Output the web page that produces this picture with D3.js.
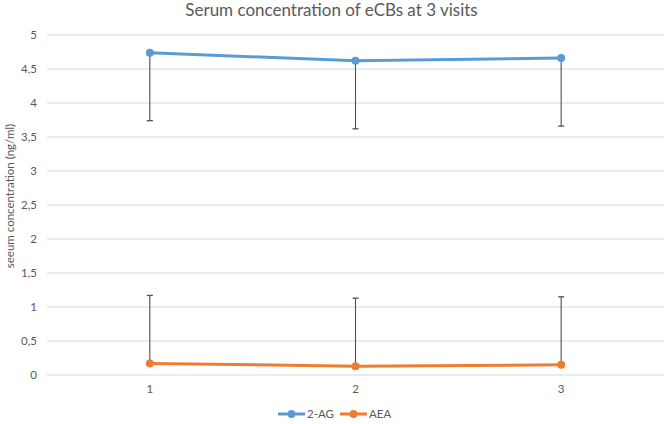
<!DOCTYPE html>
<html>
<head>
<meta charset="utf-8">
<script src="https://cdn.jsdelivr.net/npm/d3@7"></script>
<style>
  html, body { margin: 0; padding: 0; background: #fff; }
  svg { display: block; font-family: Lato, "Open Sans", sans-serif; }
</style>
</head>
<body>
<svg id="chart" width="669" height="424"></svg>
<script>
const categories = ["1", "2", "3"];
const seriesNames = ["2-AG", "AEA"];
const values2AG = [4.74, 4.62, 4.66];
const valuesAEA = [0.17, 0.13, 0.15];
const errMinus2AG = [1, 1, 1];
const errPlusAEA = [1, 1, 1];
const yTicks = [0, 0.5, 1, 1.5, 2, 2.5, 3, 3.5, 4, 4.5, 5];
const titleText = "Serum concentration of eCBs at 3 visits";
const yLabelText = "seeum concentration (ng/ml)";

const colors = { "2-AG": "#5B9BD5", "AEA": "#ED7D31" };
const textColor = "#595959";

const W = 669, H = 424;
const margin = { left: 47, right: 5, top: 35, bottom: 49 };
const svg = d3.select("#chart");

const x = d3.scaleBand().domain(categories).range([margin.left, W - margin.right]);
const y = d3.scaleLinear().domain([0, 5]).range([H - margin.bottom, margin.top]);

// gridlines
svg.append("g").selectAll("line").data(yTicks).join("line")
  .attr("x1", margin.left).attr("x2", W - margin.right)
  .attr("y1", d => y(d)).attr("y2", d => y(d))
  .attr("stroke", "#D9D9D9").attr("stroke-width", 1);

// y axis labels
const fmt = d => String(d).replace(".", ",");
const yAxis = d3.axisLeft(y).tickValues(yTicks).tickFormat(fmt).tickSize(0).tickPadding(10);
const yg = svg.append("g").attr("transform", `translate(${margin.left},0)`).call(yAxis);
yg.select(".domain").remove();
yg.selectAll("text").attr("fill", textColor).attr("font-size", 11.5).attr("font-family", "Lato, sans-serif");

// x axis labels
const xAxis = d3.axisBottom(x).tickSize(0).tickPadding(10);
const xg = svg.append("g").attr("transform", `translate(0,${y(0)})`).call(xAxis);
xg.select(".domain").remove();
xg.selectAll("text").attr("fill", textColor).attr("font-size", 11.5).attr("font-family", "Lato, sans-serif");

const cx = d => x(d) + x.bandwidth() / 2;

// error bars
const errColor = "#505050";
function errorBars(vals, errs, dir) {
  const g = svg.append("g");
  categories.forEach((c, i) => {
    const v0 = vals[i], v1 = vals[i] + dir * errs[i];
    g.append("line").attr("x1", cx(c)).attr("x2", cx(c))
      .attr("y1", y(v0)).attr("y2", y(v1))
      .attr("stroke", errColor).attr("stroke-width", 1.1);
    g.append("line").attr("x1", cx(c) - 3).attr("x2", cx(c) + 3)
      .attr("y1", y(v1)).attr("y2", y(v1))
      .attr("stroke", errColor).attr("stroke-width", 1.3);
  });
}
errorBars(values2AG, errMinus2AG, -1);
errorBars(valuesAEA, errPlusAEA, 1);

// lines and markers
const line = d3.line().x((d, i) => cx(categories[i])).y(d => y(d));
[[seriesNames[0], values2AG], [seriesNames[1], valuesAEA]].forEach(([name, vals]) => {
  svg.append("path").datum(vals).attr("d", line)
    .attr("fill", "none").attr("stroke", colors[name]).attr("stroke-width", 3)
    .attr("stroke-linejoin", "round").attr("stroke-linecap", "round");
  svg.append("g").selectAll("circle").data(vals).join("circle")
    .attr("cx", (d, i) => cx(categories[i])).attr("cy", d => y(d))
    .attr("r", 4).attr("fill", colors[name]);
});

// title
svg.append("text").attr("x", 331.5).attr("y", 16)
  .attr("text-anchor", "middle").attr("fill", textColor)
  .attr("font-size", 17).text(titleText);

// y label
svg.append("text")
  .attr("transform", `translate(14,196) rotate(-90)`)
  .attr("text-anchor", "middle").attr("fill", textColor)
  .attr("font-size", 11.5).text(yLabelText);

// legend
const legendY = 414;
const legendItems = [
  { name: seriesNames[0], x0: 278 },
  { name: seriesNames[1], x0: 340 }
];
legendItems.forEach(it => {
  const g = svg.append("g");
  g.append("line").attr("x1", it.x0).attr("x2", it.x0 + 27)
    .attr("y1", legendY).attr("y2", legendY)
    .attr("stroke", colors[it.name]).attr("stroke-width", 3);
  g.append("circle").attr("cx", it.x0 + 13.5).attr("cy", legendY).attr("r", 4).attr("fill", colors[it.name]);
  g.append("text").attr("x", it.x0 + 29).attr("y", legendY).attr("dy", "0.35em")
    .attr("fill", textColor).attr("font-size", 11.5).text(it.name);
});
</script>
</body>
</html>
